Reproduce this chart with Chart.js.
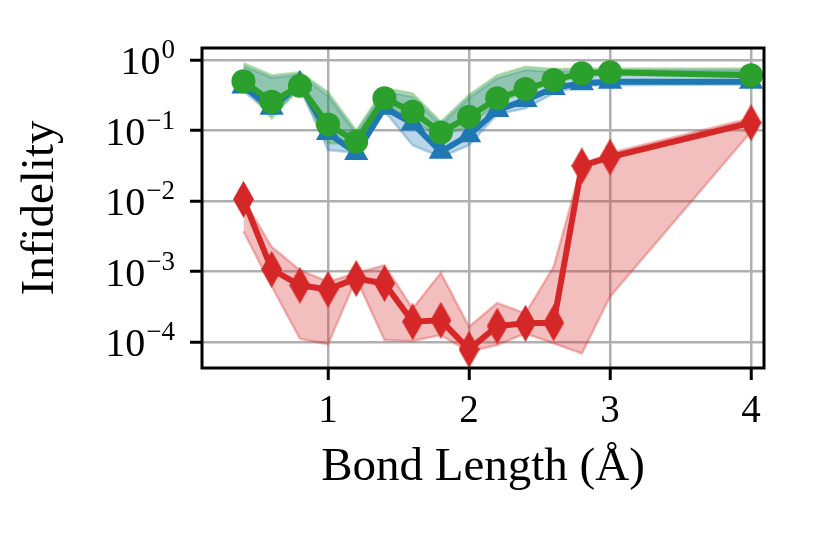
<!DOCTYPE html>
<html>
<head>
<meta charset="utf-8">
<script src="https://cdn.jsdelivr.net/npm/chart.js@4.4.0/dist/chart.umd.min.js"></script>
<style>
body { margin: 0; background: #fff; }
#wrap { width: 822px; height: 543px; }
</style>
</head>
<body>
<div id="wrap"><canvas id="infidchart" width="822" height="543"></canvas></div>
<script>
// bond lengths (angstrom)
const bondLength = [0.4, 0.6, 0.8, 1.0, 1.2, 1.4, 1.6, 1.8, 2.0, 2.2, 2.4, 2.6, 2.8, 3.0, 4.0];

// green (circles)
const greenMean  = [0.50, 0.256, 0.43, 0.122, 0.070, 0.286, 0.185, 0.094, 0.157, 0.286, 0.388, 0.52, 0.65, 0.67, 0.61];
const greenUpper = [0.90, 0.61, 0.67, 0.35, 0.10, 0.40, 0.337, 0.133, 0.32, 0.61, 0.80, 0.745, 0.76, 0.76, 0.76];
const greenLower = [0.45, 0.149, 0.40, 0.066, 0.066, 0.25, 0.13, 0.086, 0.113, 0.25, 0.35, 0.48, 0.60, 0.62, 0.58];

// blue (triangles)
const blueMean  = [0.42, 0.21, 0.46, 0.092, 0.048, 0.21, 0.126, 0.050, 0.086, 0.195, 0.27, 0.40, 0.47, 0.49, 0.49];
const blueUpper = [0.82, 0.56, 0.62, 0.31, 0.09, 0.36, 0.30, 0.12, 0.29, 0.55, 0.72, 0.68, 0.70, 0.71, 0.71];
const blueLower = [0.36, 0.17, 0.40, 0.053, 0.048, 0.19, 0.062, 0.042, 0.062, 0.17, 0.206, 0.337, 0.43, 0.44, 0.45];

// red (diamonds)
const redMean  = [1.06e-2, 1.08e-3, 6.4e-4, 5.6e-4, 8.0e-4, 6.8e-4, 1.95e-4, 2.04e-4, 7.9e-5, 1.69e-4, 1.85e-4, 1.88e-4, 3.15e-2, 4.2e-2, 1.29e-1];
const redUpper = [1.06e-2, 2.25e-3, 1.05e-3, 7.2e-4, 9.5e-4, 1.23e-3, 3.0e-4, 9.6e-4, 1.65e-4, 3.6e-4, 2.55e-4, 1.17e-3, 3.3e-2, 4.8e-2, 1.49e-1];
const redLower = [3.7e-3, 6.2e-4, 1.12e-4, 9.3e-5, 8.0e-4, 1.07e-4, 1.04e-4, 1.26e-4, 7.3e-5, 9.1e-5, 1.33e-4, 9.6e-5, 6.9e-5, 4.4e-4, 9.6e-2];

const xTicks = [1, 2, 3, 4];
const yTicks = [1e-4, 1e-3, 1e-2, 1e-1, 1];

const RED = '#d62728';
const GREEN = '#2ca02c';
const BLUE = '#1f77b4';
const SERIF = '"Liberation Serif", "DejaVu Serif", serif';

function pts(arr) {
    return arr.map((v, i) => ({ x: bondLength[i], y: v }));
}

// thin diamond marker like matplotlib 'd'
function thinDiamond(w, h, color) {
    const c = document.createElement('canvas');
    c.width = w;
    c.height = h;
    const g = c.getContext('2d');
    g.fillStyle = color;
    g.beginPath();
    g.moveTo(w / 2, 0);
    g.lineTo(w, h / 2);
    g.lineTo(w / 2, h);
    g.lineTo(0, h / 2);
    g.closePath();
    g.fill();
    return c;
}
const diamond = thinDiamond(21, 37, RED);

function band(arr, color, fill, order) {
    return {
        data: pts(arr),
        borderColor: color,
        backgroundColor: color,
        borderWidth: 2.5,
        pointRadius: 0,
        tension: 0,
        fill: fill,
        order: order
    };
}

// border + y tick labels with superscripts
const framePlugin = {
    id: 'frame',
    afterDraw(chart) {
        const ctx = chart.ctx;
        const a = chart.chartArea;
        const ys = chart.scales.y;
        ctx.save();
        ctx.strokeStyle = '#000';
        ctx.lineWidth = 3;
        ctx.strokeRect(a.left, a.top, a.right - a.left, a.bottom - a.top);

        ctx.fillStyle = '#000';
        ctx.textBaseline = 'alphabetic';
        ctx.textAlign = 'left';
        const right = 175;
        ys.ticks.forEach(t => {
            const y = ys.getPixelForValue(t.value);
            const e = Math.round(Math.log10(t.value));
            const expText = e === 0 ? '0' : '\u2212' + Math.abs(e);
            ctx.font = '27px ' + SERIF;
            const we = ctx.measureText(expText).width;
            ctx.font = '40px ' + SERIF;
            const wb = ctx.measureText('10').width;
            const x0 = right - we - wb - 1;
            ctx.fillText('10', x0, y + 14);
            ctx.font = '27px ' + SERIF;
            ctx.fillText(expText, x0 + wb + 1, y - 2);
        });
        ctx.restore();
    }
};

const gridOpts = {
    color: '#b0b0b0',
    lineWidth: 2.5,
    tickColor: '#000',
    tickLength: 12,
    tickWidth: 3
};

new Chart(document.getElementById('infidchart'), {
    type: 'line',
    data: {
        datasets: [
            {
                label: 'green',
                data: pts(greenMean),
                borderColor: GREEN,
                backgroundColor: GREEN,
                borderWidth: 6,
                pointStyle: 'circle',
                pointRadius: 12,
                pointBorderWidth: 0,
                fill: false,
                order: 1
            },
            {
                label: 'blue',
                data: pts(blueMean),
                borderColor: BLUE,
                backgroundColor: BLUE,
                borderWidth: 6,
                pointStyle: 'triangle',
                pointRadius: 14,
                pointBorderWidth: 0,
                fill: false,
                order: 2
            },
            {
                label: 'red',
                data: pts(redMean),
                borderColor: RED,
                backgroundColor: RED,
                borderWidth: 6,
                pointStyle: diamond,
                pointRadius: 12,
                fill: false,
                order: 0
            },
            band(greenUpper, 'rgba(44,160,44,0.3)', '+1', 5),
            band(greenLower, 'rgba(44,160,44,0.3)', false, 5),
            band(blueUpper, 'rgba(31,119,180,0.3)', '+1', 6),
            band(blueLower, 'rgba(31,119,180,0.3)', false, 6),
            band(redUpper, 'rgba(214,39,40,0.3)', '+1', 4),
            band(redLower, 'rgba(214,39,40,0.3)', false, 4)
        ]
    },
    options: {
        responsive: false,
        animation: false,
        devicePixelRatio: 1,
        layout: { padding: { top: 48, right: 58, left: 0, bottom: 0 } },
        plugins: {
            legend: { display: false },
            tooltip: { enabled: false }
        },
        scales: {
            x: {
                type: 'linear',
                min: 0.106,
                max: 4.092,
                afterBuildTicks: (scale) => {
                    scale.ticks = xTicks.map(v => ({ value: v }));
                },
                afterFit: (scale) => { scale.height = 175; },
                grid: gridOpts,
                border: { display: false },
                ticks: {
                    color: '#000',
                    font: { family: SERIF, size: 39 },
                    padding: 8,
                    maxRotation: 0
                },
                title: {
                    display: true,
                    text: 'Bond Length (Å)',
                    color: '#000',
                    font: { family: SERIF, size: 47 },
                    padding: { top: 0, bottom: 47 }
                }
            },
            y: {
                type: 'logarithmic',
                min: 4.3e-5,
                max: 1.48,
                afterBuildTicks: (scale) => {
                    scale.ticks = yTicks.map(v => ({ value: v }));
                },
                afterFit: (scale) => { scale.width = 202; },
                grid: gridOpts,
                border: { display: false },
                ticks: { display: false },
                title: {
                    display: true,
                    text: 'Infidelity',
                    color: '#000',
                    font: { family: SERIF, size: 47 },
                    padding: { top: 12, bottom: 0 }
                }
            }
        }
    },
    plugins: [framePlugin]
});
</script>
</body>
</html>
